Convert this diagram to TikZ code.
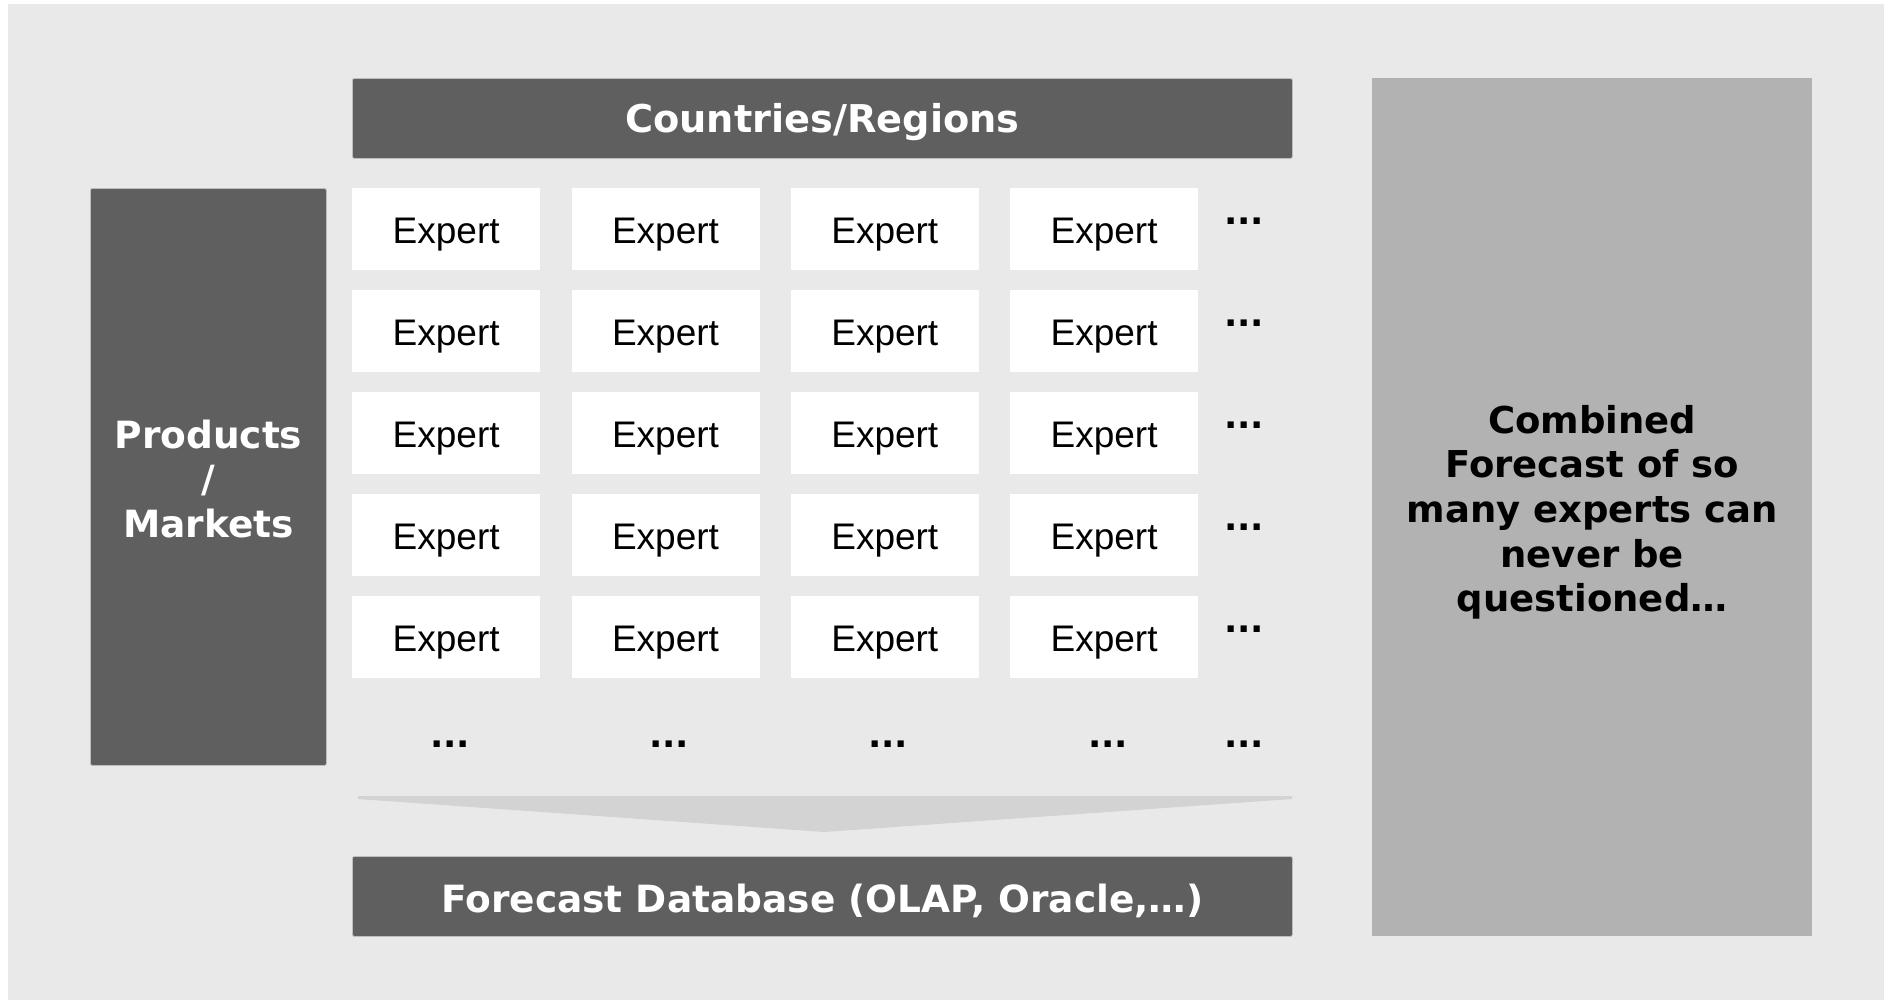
\documentclass[tikz,border=0pt]{standalone}
\usepackage{fontspec}
\setmainfont{Liberation Sans}
\newfontfamily\headfont{DejaVu Sans}

\definecolor{panelbg}{HTML}{E9E9E9}
\definecolor{barfill}{HTML}{5F5F5F}
\definecolor{barline}{HTML}{BDBDBD}
\definecolor{summaryfill}{HTML}{B2B2B2}
\definecolor{funnelfill}{HTML}{D3D3D3}

\tikzset{
  darkbar/.style={fill=barfill, draw=barline, line width=0.8pt, rounded corners=1.5pt,
    text=white, font=\headfont\bfseries\fontsize{37.5}{44.5}\selectfont,
    inner sep=0pt, anchor=north west, align=center},
  headtext/.style={text=white, inner sep=0pt, align=center,
    font=\headfont\bfseries\fontsize{37.5}{44.5}\selectfont},
  expertbox/.style={fill=white, minimum width=188pt, minimum height=82pt,
    inner sep=0pt, anchor=north west, text height=28.6pt, text depth=0pt,
    font=\fontsize{37}{44}\selectfont},
  moredots/.style={anchor=base, inner sep=0pt, text=black,
    font=\headfont\bfseries\fontsize{35}{40}\selectfont},
  summary/.style={fill=summaryfill, inner sep=0pt, anchor=north west},
  summarytext/.style={inner sep=0pt, align=center, text=black,
    font=\headfont\bfseries\fontsize{37}{44.6}\selectfont}
}

\begin{document}
\begin{tikzpicture}[x=1pt, y={(0,-1pt)}]
  % page and panel
  \fill[white] (0,0) rectangle (1887,1002);
  \useasboundingbox (0,0) rectangle (1887,1002);
  \fill[panelbg] (8,4) rectangle (1884,1000);

  % axis headers
  \node[darkbar, minimum width=940pt, minimum height=80pt, text height=29pt, text depth=0pt,
    font=\headfont\bfseries\fontsize{38.3}{44.5}\selectfont]
    (regions) at (352,78) {Countries/Regions};
  \node[darkbar, minimum width=236pt, minimum height=577pt] (products) at (90,188) {};
  \node[headtext] (products-label) at ([yshift=-2pt]products.center) {Products\\/\\Markets};

  % grid of experts
  \foreach \r in {0,...,4}{
    \foreach \c in {0,...,3}{
      \node[expertbox] (e-\r-\c) at ({352+219.3*\c},{188+102*\r}) {Expert};
    }
    \node[moredots] (rowdots-\r) at (1244,{224+102*\r}) {...};
  }
  \foreach \x/\n in {450/1,669/2,888/3,1108/4,1244/5}{
    \node[moredots] (coldots-\n) at (\x,747) {...};
  }

  % funnel into the database
  \fill[funnelfill] (358,796) -- (1292,796) -- (1292,799) -- (824,832) -- (358,799) -- cycle;

  \node[darkbar, minimum width=940pt, minimum height=80pt, text height=31.4pt, text depth=0pt]
    (database) at (352,856) {Forecast Database (OLAP, Oracle,…)};

  % summary panel
  \node[summary, minimum width=440pt, minimum height=858pt] (combined) at (1372,78) {};
  \node[summarytext] (combined-label) at ([yshift=-5pt]combined.center)
    {Combined\\Forecast of so\\many experts can\\never be\\questioned…};
\end{tikzpicture}
\end{document}
